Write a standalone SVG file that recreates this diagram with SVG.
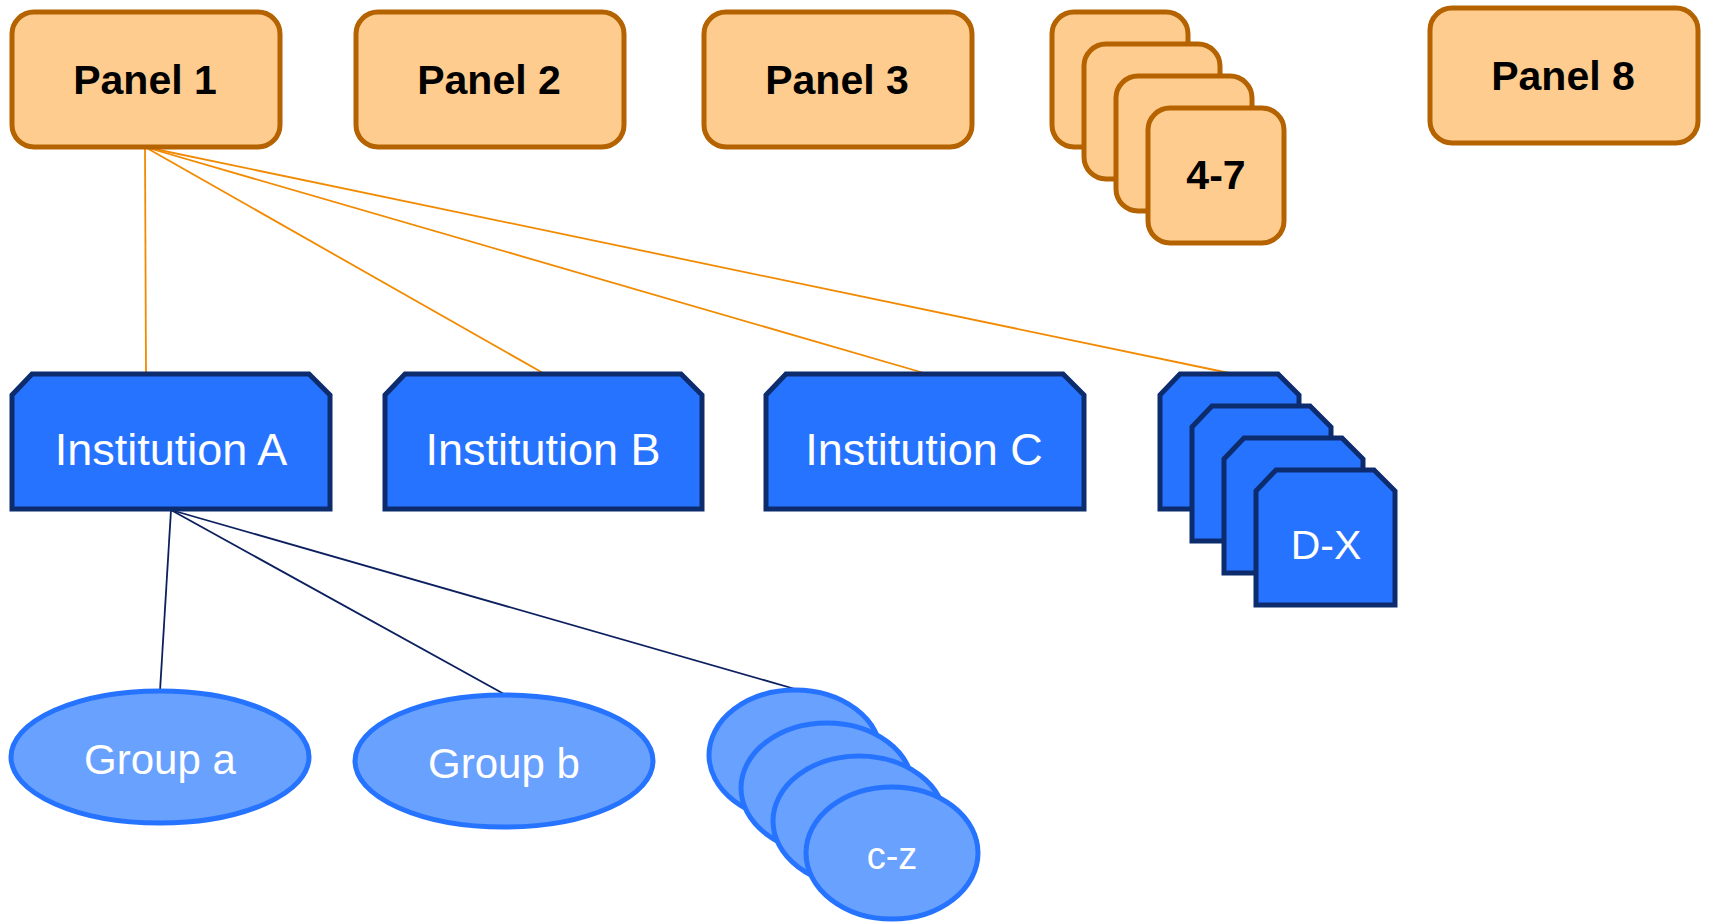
<svg xmlns="http://www.w3.org/2000/svg" width="1709" height="922" viewBox="0 0 1709 922">
<style>
.panel{fill:#FFCC8F;stroke:#B46300;stroke-width:5}
.inst{fill:#2673FF;stroke:#0C2C6E;stroke-width:5;stroke-linejoin:miter}
.grp{fill:#69A1FF;stroke:#2673FF;stroke-width:5}
.pt{font-family:"Liberation Sans",Arial,sans-serif;font-weight:bold;font-size:41px;fill:#000;text-anchor:middle;dominant-baseline:central}
.it{font-family:"Liberation Sans",Arial,sans-serif;font-size:45px;fill:#fff;text-anchor:middle;dominant-baseline:central}
.gt{font-family:"Liberation Sans",Arial,sans-serif;font-size:42px;fill:#fff;text-anchor:middle;dominant-baseline:central}
.co{stroke:#F28A00;stroke-width:1.8;fill:none}
.cn{stroke:#0C2060;stroke-width:1.8;fill:none}
</style>
<rect width="1709" height="922" fill="#fff"/>
<g id="connectors">
<line class="co" x1="145" y1="147" x2="146" y2="373"/>
<line class="co" x1="145" y1="147" x2="543" y2="373"/>
<line class="co" x1="145" y1="147" x2="924" y2="373"/>
<line class="co" x1="145" y1="147" x2="1229" y2="373"/>
<line class="cn" x1="171" y1="510" x2="160" y2="691"/>
<line class="cn" x1="171" y1="510" x2="504" y2="694"/>
<line class="cn" x1="171" y1="510" x2="795" y2="689"/>
</g>
<g id="panel1"><rect class="panel" x="12" y="12" width="268" height="135" rx="22"/><text class="pt" x="145" y="80">Panel 1</text></g>
<g id="panel2"><rect class="panel" x="356" y="12" width="268" height="135" rx="22"/><text class="pt" x="489" y="80">Panel 2</text></g>
<g id="panel3"><rect class="panel" x="704" y="12" width="268" height="135" rx="22"/><text class="pt" x="837" y="80">Panel 3</text></g>
<g id="panels4-7">
<rect class="panel" x="1052" y="12" width="136" height="135" rx="22"/>
<rect class="panel" x="1084" y="44" width="136" height="135" rx="22"/>
<rect class="panel" x="1116" y="76" width="136" height="135" rx="22"/>
<rect class="panel" x="1148" y="108" width="136" height="135" rx="22"/>
<text class="pt" x="1216" y="175">4-7</text>
</g>
<g id="panel8"><rect class="panel" x="1430" y="8" width="268" height="135" rx="22"/><text class="pt" x="1563" y="76">Panel 8</text></g>
<g id="instA"><path class="inst" d="M12,395 L32,374 L309,374 L330,395 L330,509 L12,509 Z"/><text class="it" x="171" y="449">Institution A</text></g>
<g id="instB"><path class="inst" d="M385,395 L405,374 L681,374 L702,395 L702,509 L385,509 Z"/><text class="it" x="543" y="449">Institution B</text></g>
<g id="instC"><path class="inst" d="M766,395 L786,374 L1063,374 L1084,395 L1084,509 L766,509 Z"/><text class="it" x="924" y="449">Institution C</text></g>
<g id="instD-X">
<path class="inst" d="M1160,395 L1180,374 L1278,374 L1299,395 L1299,509 L1160,509 Z"/>
<path class="inst" d="M1192,427 L1212,406 L1310,406 L1331,427 L1331,541 L1192,541 Z"/>
<path class="inst" d="M1224,459 L1244,438 L1342,438 L1363,459 L1363,573 L1224,573 Z"/>
<path class="inst" d="M1256,491 L1276,470 L1374,470 L1395,491 L1395,605 L1256,605 Z"/>
<text class="it" x="1326" y="545" style="font-size:41px">D-X</text>
</g>
<g id="groupA"><ellipse class="grp" cx="160" cy="757" rx="149" ry="66"/><text class="gt" x="160" y="759">Group a</text></g>
<g id="groupB"><ellipse class="grp" cx="504" cy="761" rx="149" ry="66"/><text class="gt" x="504" y="763">Group b</text></g>
<g id="groupC-Z">
<ellipse class="grp" cx="795" cy="755" rx="86" ry="65"/>
<ellipse class="grp" cx="827" cy="788" rx="86" ry="65"/>
<ellipse class="grp" cx="859" cy="821" rx="86" ry="65"/>
<ellipse class="grp" cx="892" cy="853" rx="86" ry="66"/>
<text class="gt" x="892" y="856" style="font-size:38px">c-z</text>
</g>
</svg>
